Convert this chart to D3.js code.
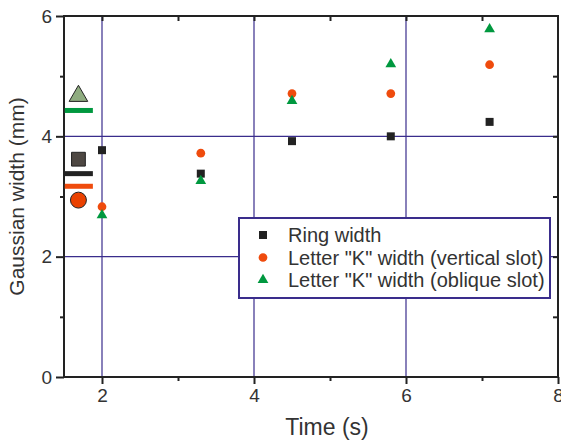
<!DOCTYPE html>
<html>
<head>
<meta charset="utf-8">
<script src="https://cdn.jsdelivr.net/npm/d3@7"></script>
<style>
  body { margin: 0; background: #fff; }
  text { font-family: "Liberation Sans", Arial, sans-serif; fill: #333; }
</style>
</head>
<body>
<svg width="561" height="440"></svg>
<script>
// measured points (time in s, width in mm)
const times = [2, 3.3, 4.5, 5.8, 7.1]
const ringWidth = [3.77, 3.38, 3.92, 4.0, 4.24]
const kVertical = [2.83, 3.72, 4.71, 4.71, 5.19]
const kOblique = [2.69, 3.26, 4.59, 5.20, 5.78]

// big reference markers and bars at the left
const refX = 1.69
const refMarkers = [
  {shape: 'triangle', y: 4.67, fill: '#8fac80'},
  {shape: 'square', y: 3.62, fill: '#4e4843'},
  {shape: 'circle', y: 2.94, fill: '#ea4100'}
]
const refBars = [
  {y: 4.43, color: '#00983f'},
  {y: 3.38, color: '#222'},
  {y: 3.17, color: '#ef4b0d'}
]
const barRange = [1.51, 1.88]

const legendLabels = ['Ring width', 'Letter "K" width (vertical slot)', 'Letter "K" width (oblique slot)']

const xTicks = [2, 4, 6, 8]
const yTicks = [0, 2, 4, 6]

const colors = {square: '#222', circle: '#ef4b0d', triangle: '#00983f'}
const gridColor = '#3a2d8c'

let svg = d3.select("svg")
let margin = {top: 16, right: 4, bottom: 63, left: 64}
let width = 558 - margin.left
let height = 377 - margin.top

let x = d3.scaleLinear().domain([1.5, 8]).range([0, width])
let y = d3.scaleLinear().domain([0, 6]).range([height, 0])

let g = svg.append("g")
    .attr("transform", "translate(" + margin.left + "," + margin.top + ")")

// grid
g.selectAll(".vgrid").data([2, 4, 6]).enter().append("line")
  .attr("x1", d => x(d)).attr("x2", d => x(d))
  .attr("y1", 0).attr("y2", height)
  .attr("stroke", gridColor).attr("stroke-width", 1.2)
g.selectAll(".hgrid").data([2, 4]).enter().append("line")
  .attr("x1", 0).attr("x2", width)
  .attr("y1", d => y(d)).attr("y2", d => y(d))
  .attr("stroke", gridColor).attr("stroke-width", 1.2)

// axes
function styleAxis(sel) {
  sel.select(".domain").remove()
  sel.selectAll("line").attr("stroke", "#222").attr("stroke-width", 2)
  sel.selectAll("text").style("font-size", "19px").attr("fill", "#333")
}

g.append("g")
  .attr("transform", "translate(0," + height + ")")
  .call(d3.axisBottom(x).tickValues([3, 5, 7]).tickSize(4).tickFormat(""))
  .call(styleAxis)
g.append("g")
  .attr("transform", "translate(0," + height + ")")
  .call(d3.axisBottom(x).tickValues(xTicks).tickSize(7).tickPadding(5).tickFormat(d3.format("d")))
  .call(styleAxis)

g.append("g")
  .call(d3.axisLeft(y).tickValues([1, 3, 5]).tickSize(4).tickFormat(""))
  .call(styleAxis)
g.append("g")
  .call(d3.axisLeft(y).tickValues(yTicks).tickSize(8).tickPadding(4).tickFormat(d3.format("d")))
  .call(styleAxis)

g.append("g")
  .call(d3.axisTop(x).tickValues([2, 3, 4, 5, 6, 7]).tickSize(-5).tickFormat(""))
  .call(styleAxis)
g.append("g")
  .attr("transform", "translate(" + width + ",0)")
  .call(d3.axisRight(y).tickValues([1, 2, 3, 4, 5]).tickSize(-5).tickFormat(""))
  .call(styleAxis)

// frame
g.append("rect")
  .attr("x", 0).attr("y", 0).attr("width", width).attr("height", height)
  .attr("fill", "none").attr("stroke", "#222").attr("stroke-width", 2)

// titles
svg.append("text")
  .attr("x", 327).attr("y", 435)
  .attr("text-anchor", "middle")
  .style("font-size", "23px")
  .text("Time (s)")
svg.append("text")
  .attr("transform", "translate(24," + (margin.top + height / 2) + ") rotate(-90)")
  .attr("text-anchor", "middle")
  .style("font-size", "21px")
  .text("Gaussian width (mm)")

// symbol helper
function symbolPath(shape, size) {
  let type = shape === 'square' ? d3.symbolSquare : shape === 'circle' ? d3.symbolCircle : d3.symbolTriangle
  return d3.symbol().type(type).size(size)()
}

// reference bars
g.selectAll(".refbar").data(refBars).enter().append("line")
  .attr("x1", x(barRange[0])).attr("x2", x(barRange[1]))
  .attr("y1", d => y(d.y)).attr("y2", d => y(d.y))
  .attr("stroke", d => d.color).attr("stroke-width", 5)

// reference markers
g.selectAll(".refmark").data(refMarkers).enter().append("path")
  .attr("d", d => symbolPath(d.shape, d.shape === 'square' ? 190 : d.shape === 'circle' ? 200 : 150))
  .attr("transform", d => "translate(" + x(refX) + "," + y(d.y) + ")")
  .attr("fill", d => d.fill)
  .attr("stroke", "#222").attr("stroke-width", 1)

// data series
const series = [
  {shape: 'square', values: ringWidth, size: 64},
  {shape: 'circle', values: kVertical, size: 60},
  {shape: 'triangle', values: kOblique, size: 50}
]
series.forEach(s => {
  g.selectAll(".pt-" + s.shape).data(times).enter().append("path")
    .attr("d", symbolPath(s.shape, s.size))
    .attr("transform", (t, i) => "translate(" + x(t) + "," + y(s.values[i]) + ")")
    .attr("fill", colors[s.shape])
})

// legend
let legend = svg.append("g").attr("transform", "translate(239,218)")
legend.append("rect")
  .attr("width", 311).attr("height", 80)
  .attr("fill", "#fff").attr("stroke", gridColor).attr("stroke-width", 2)
series.forEach((s, i) => {
  legend.append("path")
    .attr("d", symbolPath(s.shape, s.size))
    .attr("transform", "translate(24," + (17 + i * 22.5) + ")")
    .attr("fill", colors[s.shape])
  legend.append("text")
    .attr("x", 49).attr("y", 17 + i * 22.5)
    .attr("dy", "0.35em")
    .style("font-size", "20px")
    .text(legendLabels[i])
})
</script>
</body>
</html>
